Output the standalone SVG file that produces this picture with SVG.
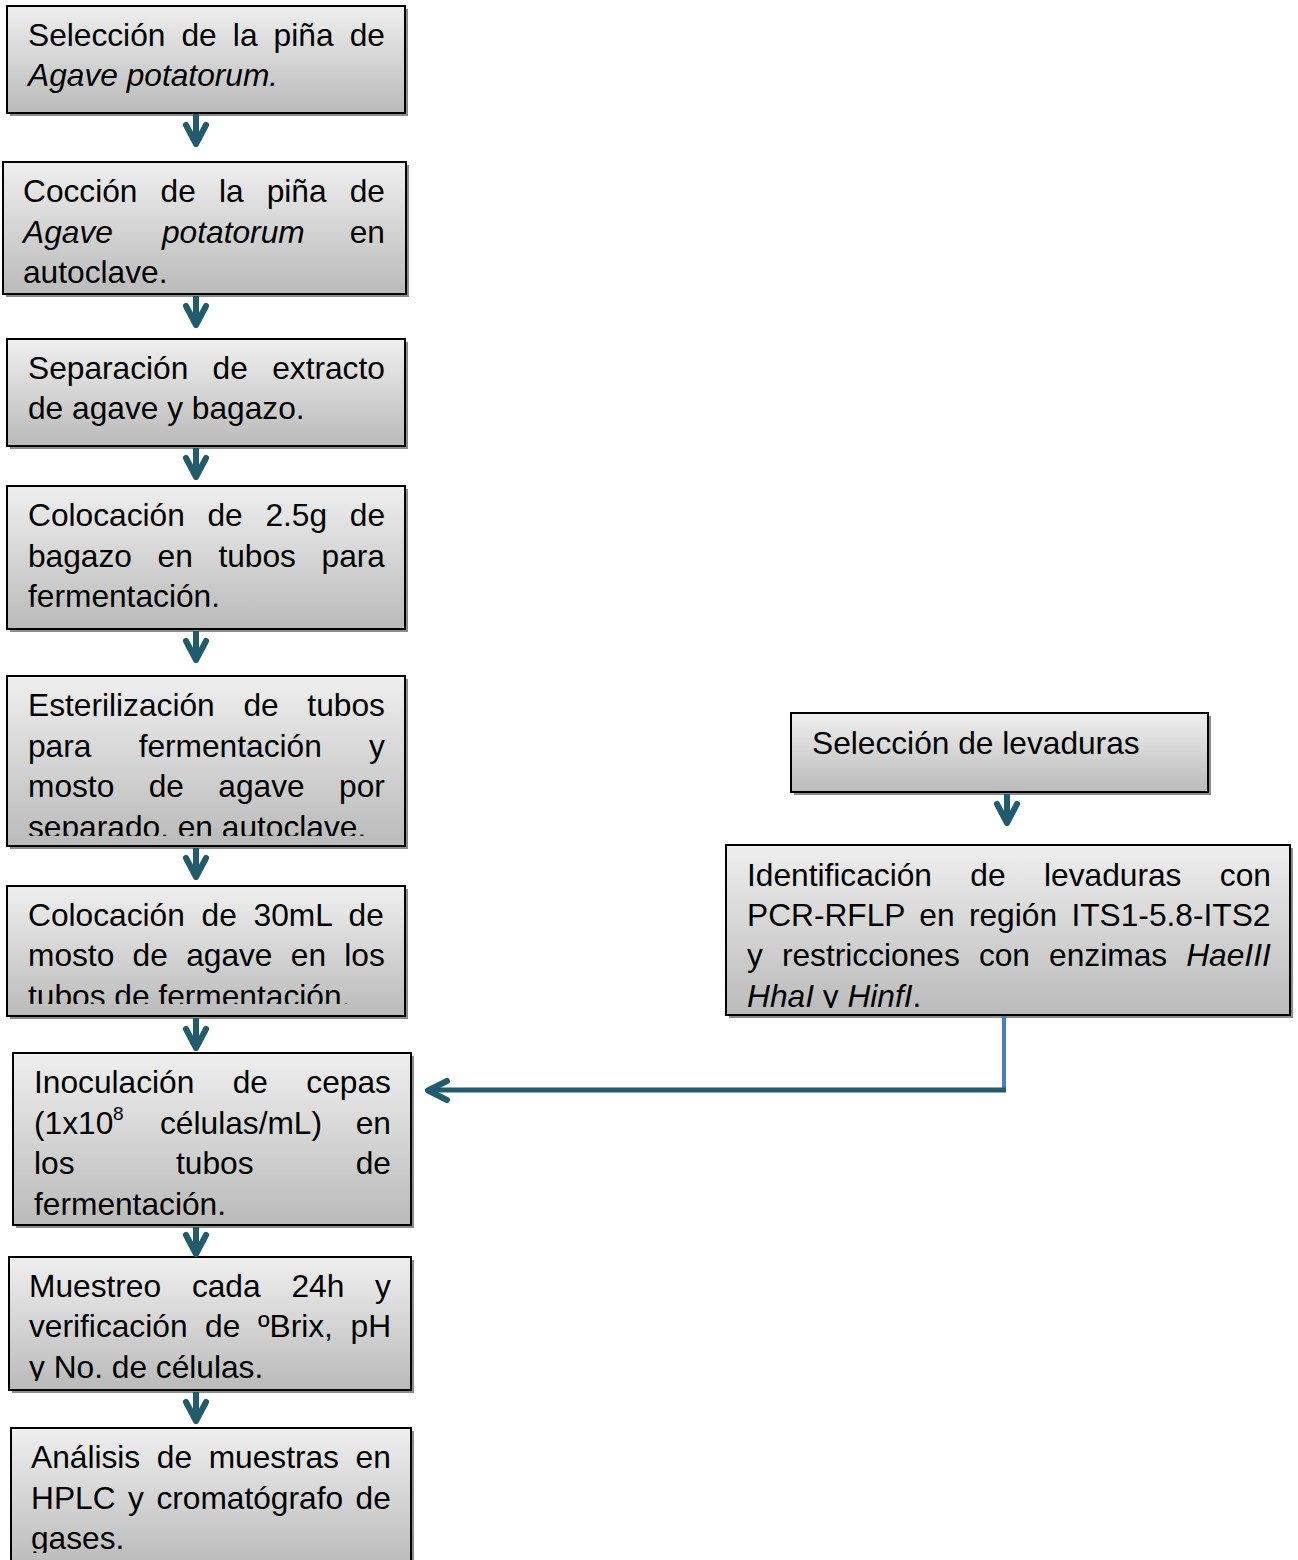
<svg xmlns="http://www.w3.org/2000/svg" width="1298" height="1560" viewBox="0 0 1298 1560">
<defs>
<linearGradient id="g" x1="0" y1="0" x2="0" y2="1">
<stop offset="0" stop-color="#efefef"/>
<stop offset="1" stop-color="#bababa"/>
</linearGradient>
<clipPath id="c5"><rect x="0" y="670" width="420" height="166"/></clipPath>
<clipPath id="c6"><rect x="0" y="880" width="420" height="124"/></clipPath>
<clipPath id="c7"><rect x="0" y="1050" width="420" height="166"/></clipPath>
<clipPath id="c8"><rect x="0" y="1250" width="420" height="131"/></clipPath>
<clipPath id="c9"><rect x="0" y="1420" width="420" height="133"/></clipPath>
<clipPath id="cr2"><rect x="720" y="840" width="578" height="168"/></clipPath>
</defs>
<style>
.t{font-family:"Liberation Sans",Arial,sans-serif;font-size:31.7px;fill:#000}
.i{font-style:italic}
.box{fill:url(#g);stroke:#000;stroke-width:2}
.sh{fill:#8c8c8c}
.shaft{stroke:#215b6c;stroke-width:6;fill:none}
.head{stroke:#215b6c;stroke-width:6;fill:none;stroke-linecap:round;stroke-linejoin:round}
.blue{stroke:#4a7ebb;stroke-width:4;fill:none}
</style>

<g id="n1">
<rect class="sh" x="10" y="9" width="398" height="107"/>
<rect class="box" x="7" y="6" width="398" height="107"/>
<text class="t" x="28" y="46" word-spacing="7.3">Selección de la piña de</text>
<text class="t i" x="28" y="86">Agave potatorum.</text>
</g>

<g id="n2">
<rect class="sh" x="6" y="165" width="403" height="132"/>
<rect class="box" x="3" y="162" width="403" height="132"/>
<text class="t" x="23" y="202" word-spacing="14.3">Cocción de la piña de</text>
<text class="t"><tspan class="i" x="23" y="243">Agave</tspan><tspan class="i" x="162" y="243">potatorum</tspan><tspan x="385" y="243" text-anchor="end">en</tspan></text>
<text class="t" x="23" y="283">autoclave.</text>
</g>

<g id="n3">
<rect class="sh" x="10" y="342" width="398" height="107"/>
<rect class="box" x="7" y="339" width="398" height="107"/>
<text class="t" x="28" y="379" word-spacing="15.5">Separación de extracto</text>
<text class="t" x="28" y="419">de agave y bagazo.</text>
</g>

<g id="n4">
<rect class="sh" x="10" y="489" width="398" height="143"/>
<rect class="box" x="7" y="486" width="398" height="143"/>
<text class="t" x="28" y="526" word-spacing="13.9">Colocación de 2.5g de</text>
<text class="t" x="28" y="567" word-spacing="16.8">bagazo en tubos para</text>
<text class="t" x="28" y="607">fermentación.</text>
</g>

<g id="n5">
<rect class="sh" x="10" y="679" width="398" height="170"/>
<rect class="box" x="7" y="676" width="398" height="170"/>
<g clip-path="url(#c5)">
<text class="t" x="28" y="716" word-spacing="19.9">Esterilización de tubos</text>
<text class="t" x="28" y="757" word-spacing="38.4">para fermentación y</text>
<text class="t" x="28" y="797" word-spacing="25.6">mosto de agave por</text>
<text class="t" x="28" y="838">separado, en autoclave.</text>
</g>
</g>

<g id="n6">
<rect class="sh" x="10" y="889" width="398" height="130"/>
<rect class="box" x="7" y="886" width="398" height="130"/>
<g clip-path="url(#c6)">
<text class="t" x="28" y="926" word-spacing="8.0">Colocación de 30mL de</text>
<text class="t" x="28" y="966" word-spacing="9.5">mosto de agave en los</text>
<text class="t" x="28" y="1007">tubos de fermentación.</text>
</g>
</g>

<g id="n7">
<rect class="sh" x="16" y="1056" width="398" height="172"/>
<rect class="box" x="13" y="1053" width="398" height="172"/>
<g clip-path="url(#c7)">
<text class="t" x="34" y="1093" word-spacing="29.6">Inoculación de cepas</text>
<text class="t"><tspan x="34" y="1134">(1x10</tspan><tspan x="113" y="1120" style="font-size:19px">8</tspan><tspan x="160" y="1134">células/mL)</tspan><tspan x="391" y="1134" text-anchor="end">en</tspan></text>
<text class="t"><tspan x="34" y="1174">los</tspan><tspan x="176" y="1174">tubos</tspan><tspan x="391" y="1174" text-anchor="end">de</tspan></text>
<text class="t" x="34" y="1215">fermentación.</text>
</g>
</g>

<g id="n8">
<rect class="sh" x="12" y="1260" width="402" height="133"/>
<rect class="box" x="9" y="1257" width="402" height="133"/>
<g clip-path="url(#c8)">
<text class="t" x="29" y="1297" word-spacing="22.0">Muestreo cada 24h y</text>
<text class="t" x="29" y="1337" word-spacing="8.8">verificación de ºBrix, pH</text>
<text class="t" x="29" y="1378">y No. de células.</text>
</g>
</g>

<g id="n9">
<rect class="sh" x="14" y="1431" width="400" height="140"/>
<rect class="box" x="11" y="1428" width="400" height="140"/>
<g clip-path="url(#c9)">
<text class="t" x="31" y="1468" word-spacing="7.8">Análisis de muestras en</text>
<text class="t" x="31" y="1509" word-spacing="3.7">HPLC y cromatógrafo de</text>
<text class="t" x="31" y="1549">gases.</text>
</g>
</g>

<g id="r1">
<rect class="sh" x="794" y="716" width="417" height="79"/>
<rect class="box" x="791" y="713" width="417" height="79"/>
<text class="t" x="812" y="754">Selección de levaduras</text>
</g>

<g id="r2">
<rect class="sh" x="729" y="848" width="564" height="170"/>
<rect class="box" x="726" y="845" width="564" height="170"/>
<g clip-path="url(#cr2)">
<text class="t" x="747" y="886" word-spacing="29.6">Identificación de levaduras con</text>
<text class="t" x="747" y="926" word-spacing="5.6">PCR-RFLP en región ITS1-5.8-ITS2</text>
<text class="t" x="747" y="966" word-spacing="10.3">y restricciones con enzimas <tspan class="i">HaeIII</tspan></text>
<text class="t" x="747" y="1007"><tspan class="i">HhaI</tspan> y <tspan class="i">HinfI</tspan>.</text>
</g>
</g>

<g id="connectors">
<path class="shaft" d="M196,114V140M196,296V321M196,448V473M196,631V656M196,848V873M196,1018V1044M196,1227V1250M196,1392V1417M1007,794V819"/>
<path class="head" d="M186,125L196,144L206,125M186,306L196,325L206,306M186,458L196,477L206,458M186,641L196,660L206,641M186,858L196,877L206,858M186,1029L196,1048L206,1029M186,1235L196,1254L206,1235M186,1402L196,1421L206,1402M997,804L1007,823L1017,804"/>
<path class="blue" d="M1004,1016V1092"/>
<path class="shaft" d="M1006,1090H432" style="stroke-width:5"/>
<path class="head" d="M447,1081L428,1090.5L447,1100"/>
</g>
</svg>
